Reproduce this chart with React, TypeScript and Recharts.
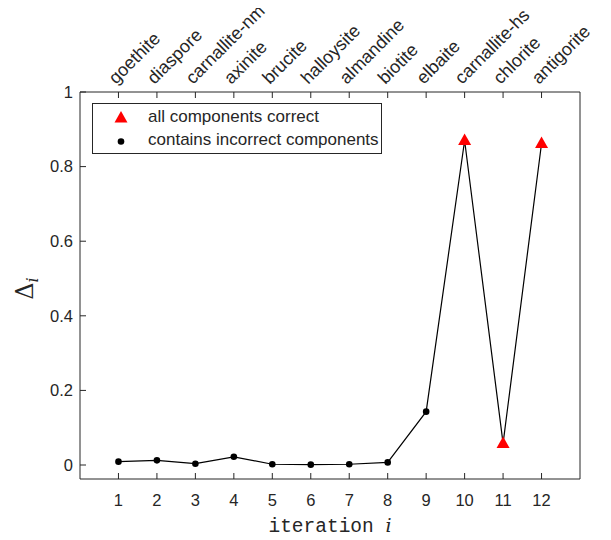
import { ComposedChart, Line, Scatter, XAxis, YAxis } from 'recharts';

// iteration index and the measured difference per iteration
const ITERATIONS = [1, 2, 3, 4, 5, 6, 7, 8, 9, 10, 11, 12];
const DELTA = [0.009, 0.0125, 0.0035, 0.022, 0.002, 0.001, 0.002, 0.007, 0.143, 0.87, 0.058, 0.862];
const ALL_CORRECT = [false, false, false, false, false, false, false, false, false, true, true, true];
const MINERALS = [
  'goethite',
  'diaspore',
  'carnallite-nm',
  'axinite',
  'brucite',
  'halloysite',
  'almandine',
  'biotite',
  'elbaite',
  'carnallite-hs',
  'chlorite',
  'antigorite',
];
const Y_TICKS = [0, 0.2, 0.4, 0.6, 0.8, 1];

const AXIS = '#262626';
const FONT = '"Liberation Sans", Arial, Helvetica, sans-serif';

const rows = ITERATIONS.map((x, i) => ({ x, delta: DELTA[i], correct: ALL_CORRECT[i] }));
const correctRows = rows.filter((r) => r.correct);
const incorrectRows = rows.filter((r) => !r.correct);

const Triangle = (props: any) => {
  const { cx, cy } = props;
  if (cx == null || cy == null) return null;
  return <path d={`M${cx},${cy - 7} L${cx + 6.5},${cy + 4.5} L${cx - 6.5},${cy + 4.5} Z`} fill="#ff0000" />;
};

const Dot = (props: any) => {
  const { cx, cy } = props;
  if (cx == null || cy == null) return null;
  return <circle cx={cx} cy={cy} r={3.3} fill="#000" />;
};

const TopTick = (props: any) => {
  const { x, y, payload } = props;
  const name = MINERALS[payload.value - 1];
  if (!name) return null;
  const px = x - 2.5;
  const py = y + 7;
  return (
    <text x={px} y={py} transform={`rotate(-45, ${px}, ${py})`} textAnchor="start" fontSize={18} fontFamily={FONT} fill={AXIS}>
      {name}
    </text>
  );
};

const YTitle = (props: any) => {
  const vb = props.viewBox || { x: 0, y: 92, width: 80, height: 387 };
  const x = 33;
  const y = vb.y + vb.height / 2 + 3;
  return (
    <text x={x} y={y} transform={`rotate(-90, ${x}, ${y})`} textAnchor="middle" fill={AXIS} fontFamily='"DejaVu Serif", serif'>
      <tspan fontSize={24}>Δ</tspan>
      <tspan fontSize={16} fontStyle="italic" dy={5}>i</tspan>
    </text>
  );
};

const XTitle = (props: any) => {
  const vb = props.viewBox || { x: 80, y: 479, width: 500, height: 61 };
  const x = vb.x + vb.width / 2;
  return (
    <text x={x} y={532} textAnchor="middle" fill={AXIS}>
      <tspan fontFamily='"Liberation Mono", monospace' fontSize={19.5}>iteration </tspan>
      <tspan fontFamily='"DejaVu Serif", serif' fontStyle="italic" fontSize={19}>i</tspan>
    </text>
  );
};

const legendText = { position: 'absolute' as const, left: 55, fontSize: 17, fontFamily: FONT, color: AXIS, lineHeight: '20px' };

export default function App() {
  return (
    <div style={{ position: 'relative', width: 611, height: 540, margin: -8, background: '#fff' }}>
      <ComposedChart width={611} height={540} data={rows} margin={{ top: 0, right: 20, bottom: 0, left: 0 }}>
        <XAxis
          xAxisId="bottom"
          type="number"
          dataKey="x"
          domain={[0, 13]}
          ticks={ITERATIONS}
          allowDataOverflow
          height={61}
          tickSize={-6}
          tickMargin={21}
          stroke={AXIS}
          tick={{ fill: AXIS, fontSize: 16.5, fontFamily: FONT }}
          label={<XTitle />}
        />
        <XAxis
          xAxisId="top"
          orientation="top"
          type="number"
          dataKey="x"
          domain={[0, 13]}
          ticks={ITERATIONS}
          allowDataOverflow
          height={92}
          tickSize={-6}
          tickMargin={20}
          stroke={AXIS}
          tick={<TopTick />}
        />
        <YAxis
          yAxisId="left"
          type="number"
          domain={[-0.0375, 1]}
          ticks={Y_TICKS}
          allowDataOverflow
          width={80}
          tickSize={-6}
          tickMargin={13}
          stroke={AXIS}
          tick={{ fill: AXIS, fontSize: 16.5, fontFamily: FONT }}
          label={<YTitle />}
        />
        <YAxis
          yAxisId="right"
          orientation="right"
          type="number"
          domain={[-0.0375, 1]}
          ticks={Y_TICKS}
          allowDataOverflow
          width={11}
          tickSize={-6}
          stroke={AXIS}
          tick={false}
        />
        <Scatter
          xAxisId="bottom"
          yAxisId="left"
          data={correctRows}
          dataKey="delta"
          shape={<Triangle />}
          isAnimationActive={false}
        />
        <Scatter
          xAxisId="bottom"
          yAxisId="left"
          data={incorrectRows}
          dataKey="delta"
          shape={<Dot />}
          isAnimationActive={false}
        />
        <Line
          xAxisId="bottom"
          yAxisId="left"
          type="linear"
          dataKey="delta"
          stroke="#000"
          strokeWidth={1.2}
          dot={false}
          activeDot={false}
          isAnimationActive={false}
        />
      </ComposedChart>

      {/* legend */}
      <div
        style={{
          position: 'absolute',
          left: 92,
          top: 103,
          width: 288,
          height: 49,
          border: `1px solid ${AXIS}`,
          background: '#fff',
        }}
      >
        <svg width={40} height={49} style={{ position: 'absolute', left: 0, top: 0 }}>
          <path d="M28,7 L34.5,18.5 L21.5,18.5 Z" fill="#ff0000" />
          <circle cx={28} cy={37.5} r={3.3} fill="#000" />
        </svg>
        <div style={{ ...legendText, top: 3 }}>all components correct</div>
        <div style={{ ...legendText, top: 26 }}>contains incorrect components</div>
      </div>
    </div>
  );
}
